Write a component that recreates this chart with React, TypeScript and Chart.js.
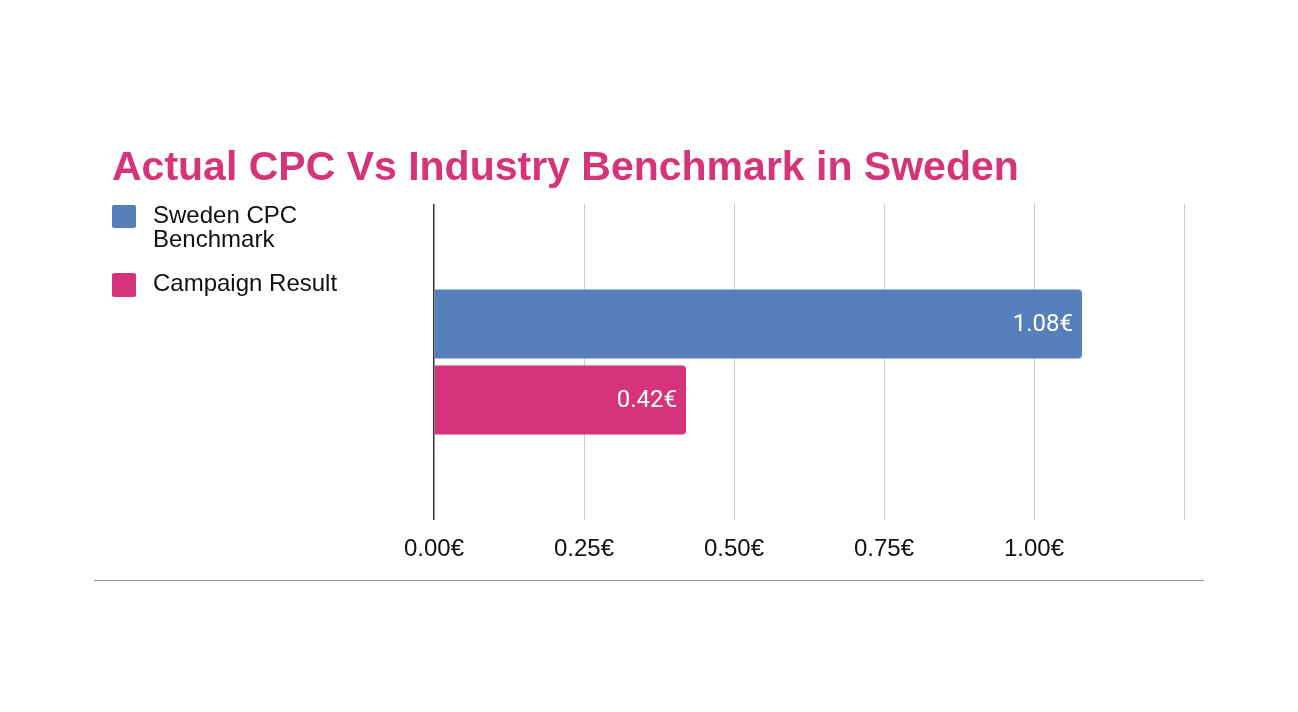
import React, { useEffect, useRef } from "react";
import { Chart, registerables } from "chart.js";

Chart.register(...registerables);

const title = "Actual CPC Vs Industry Benchmark in Sweden";
const categories = [""];
const seriesNames = ["Sweden CPC Benchmark", "Campaign Result"];
const benchmarkValues = [1.08];
const campaignValues = [0.42];
const seriesColors = ["#5680bc", "#d6347a"];
const tickValues = [0, 0.25, 0.5, 0.75, 1.0, 1.25];
const tickLabels = ["0.00€", "0.25€", "0.50€", "0.75€", "1.00€", ""];

const valueLabelPlugin = {
  id: "valueLabels",
  afterDatasetsDraw(chart: any) {
    const ctx = chart.ctx;
    ctx.save();
    ctx.font = "24px Roboto, 'Noto Sans', sans-serif";
    ctx.fillStyle = "#ffffff";
    ctx.textAlign = "right";
    ctx.textBaseline = "middle";
    chart.data.datasets.forEach((ds: any, di: number) => {
      const meta = chart.getDatasetMeta(di);
      meta.data.forEach((bar: any, i: number) => {
        const v = ds.data[i];
        ctx.fillText(v.toFixed(2) + "€", bar.x - 9, bar.y + 1);
      });
    });
    ctx.restore();
  },
};

export default function App() {
  const canvasRef = useRef<HTMLCanvasElement | null>(null);

  useEffect(() => {
    const canvas = canvasRef.current;
    if (!canvas) return;
    const chart = new Chart(canvas, {
      type: "bar",
      data: {
        labels: categories,
        datasets: [
          {
            label: seriesNames[0],
            data: benchmarkValues,
            backgroundColor: seriesColors[0],
            borderRadius: 4,
            categoryPercentage: 0.48,
            barPercentage: 0.91,
          },
          {
            label: seriesNames[1],
            data: campaignValues,
            backgroundColor: seriesColors[1],
            borderRadius: 4,
            categoryPercentage: 0.48,
            barPercentage: 0.91,
          },
        ],
      },
      options: {
        indexAxis: "y",
        responsive: false,
        animation: false,
        layout: { padding: { left: 434, right: 114, top: 204, bottom: 132 } },
        plugins: {
          legend: { display: false },
          title: { display: false },
          tooltip: { enabled: false },
        },
        scales: {
          x: {
            min: 0,
            max: 1.25,
            afterBuildTicks(scale: any) {
              scale.ticks = tickValues.map((v) => ({ value: v }));
            },
            afterFit(scale: any) {
              scale.height = 60;
            },
            ticks: {
              autoSkip: false,
              maxRotation: 0,
              padding: 15,
              color: "#111",
              font: { family: "'Liberation Sans', Arial, sans-serif", size: 24 },
              callback: (value: any) => {
                const idx = tickValues.indexOf(Number(value));
                return idx >= 0 ? tickLabels[idx] : "";
              },
            },
            grid: {
              drawTicks: false,
              color: (c: any) => (c.tick && c.tick.value === 0 ? "#333333" : "#cccccc"),
              lineWidth: (c: any) => (c.tick && c.tick.value === 0 ? 1.5 : 1),
            },
            border: { display: false },
          },
          y: { display: false },
        },
      },
      plugins: [valueLabelPlugin],
    } as any);
    return () => chart.destroy();
  }, []);

  const legendFont = "'Liberation Sans', Arial, sans-serif";

  return (
    <div
      style={{
        position: "fixed",
        left: 0,
        top: 0,
        width: 1298,
        height: 712,
        background: "#ffffff",
        overflow: "hidden",
      }}
    >
      <canvas ref={canvasRef} width={1298} height={712} style={{ display: "block", position: "absolute", left: 0, top: 0 }} />
      <div
        style={{
          position: "absolute",
          left: 112,
          top: 146,
          fontFamily: legendFont,
          fontWeight: "bold",
          fontSize: 41,
          lineHeight: "41px",
          color: "#d6347a",
          whiteSpace: "nowrap",
        }}
      >
        {title}
      </div>
      <div style={{ position: "absolute", left: 112, top: 205, width: 24, height: 23, borderRadius: 2, background: seriesColors[0] }} />
      <div
        style={{
          position: "absolute",
          left: 153,
          top: 203,
          width: 180,
          fontFamily: legendFont,
          fontSize: 24,
          lineHeight: "24px",
          color: "#111",
        }}
      >
        {seriesNames[0]}
      </div>
      <div style={{ position: "absolute", left: 112, top: 273, width: 24, height: 24, borderRadius: 2, background: seriesColors[1] }} />
      <div
        style={{
          position: "absolute",
          left: 153,
          top: 271,
          fontFamily: legendFont,
          fontSize: 24,
          lineHeight: "24px",
          color: "#111",
          whiteSpace: "nowrap",
        }}
      >
        {seriesNames[1]}
      </div>
      <div style={{ position: "absolute", left: 94, top: 580, width: 1110, height: 1, background: "#999" }} />
    </div>
  );
}
